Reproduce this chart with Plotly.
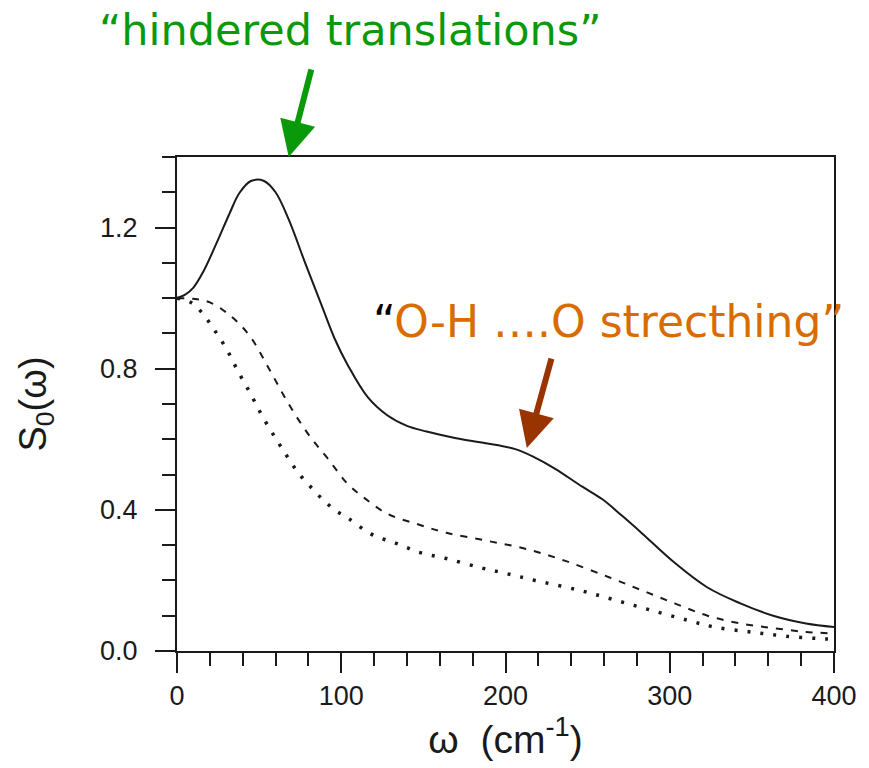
import plotly.graph_objects as go

# Frequency spectrum S0(omega) of the three model curves
omega_solid = [0, 5, 10, 16, 24, 32, 38, 45, 53, 60, 68, 78, 88, 96, 104, 116, 128,
               140, 152, 170, 188, 206, 218, 230, 247, 259, 271, 283, 303, 323, 343, 363, 383, 400]
s_solid = [1.0, 1.01, 1.03, 1.075, 1.155, 1.24, 1.298, 1.332, 1.332, 1.30, 1.223, 1.10,
           0.98, 0.885, 0.81, 0.72, 0.668, 0.638, 0.622, 0.603, 0.589, 0.572, 0.548, 0.517,
           0.465, 0.43, 0.383, 0.334, 0.25, 0.18, 0.135, 0.10, 0.078, 0.068]

omega_dash = [0, 10, 20, 32, 44, 56, 68, 80, 92, 104, 114, 128, 146, 164, 188, 212, 236,
              263, 283, 303, 323, 343, 363, 383, 400]
s_dash = [1.0, 0.998, 0.988, 0.952, 0.895, 0.80, 0.70, 0.614, 0.544, 0.473, 0.434, 0.389,
          0.36, 0.335, 0.313, 0.29, 0.256, 0.209, 0.172, 0.135, 0.10, 0.078, 0.065, 0.054, 0.05]

omega_dot = [0, 8, 15, 22, 30, 37, 45, 52, 60, 67, 74, 82, 89, 96, 104, 118, 134, 148, 164,
             184, 200, 218, 245, 267, 289, 311, 327, 349, 371, 395, 400]
s_dot = [1.0, 0.989, 0.96, 0.915, 0.857, 0.794, 0.727, 0.665, 0.603, 0.552, 0.504, 0.462,
         0.428, 0.40, 0.377, 0.332, 0.304, 0.279, 0.262, 0.237, 0.22, 0.20, 0.172, 0.144,
         0.115, 0.087, 0.068, 0.054, 0.042, 0.034, 0.033]

x_ticks = [0, 100, 200, 300, 400]
y_ticks = [0.0, 0.4, 0.8, 1.2]

INK = "#1a1a1a"
GREEN = "#0a990a"
ORANGE = "#d86c00"
BROWN = "#993300"

fig = go.Figure()
fig.add_trace(go.Scatter(x=omega_solid, y=s_solid, mode="lines",
                         line=dict(color=INK, width=2, shape="spline", smoothing=1.0)))
fig.add_trace(go.Scatter(x=omega_dash, y=s_dash, mode="lines",
                         line=dict(color=INK, width=2, dash="7px,8px", shape="spline", smoothing=1.0)))
fig.add_trace(go.Scatter(x=omega_dot, y=s_dot, mode="lines",
                         line=dict(color=INK, width=3.5, dash="3px,10px", shape="spline", smoothing=1.0)))

axis_common = dict(
    showline=True, linecolor=INK, linewidth=2, mirror=True,
    ticks="outside", ticklen=20, tickwidth=1.5, tickcolor=INK,
    showgrid=False, zeroline=False,
    tickfont=dict(family="Liberation Sans", size=27, color=INK),
)

fig.update_layout(
    width=869, height=768,
    margin=dict(l=177, r=28, t=157, b=117),
    paper_bgcolor="white", plot_bgcolor="white",
    showlegend=False,
    xaxis=dict(range=[0, 400], tickvals=x_ticks, **axis_common,
               minor=dict(dtick=20, ticklen=13, tickwidth=1.5, tickcolor=INK, ticks="outside"),
               title=dict(text="ω  (cm<sup>-1</sup>)", standoff=14,
                          font=dict(family="Liberation Sans", size=39, color=INK))),
    yaxis=dict(range=[0, 1.4], tickvals=y_ticks, tickformat=".1f", **axis_common,
               ticklabelstandoff=12,
               minor=dict(dtick=0.1, ticklen=13, tickwidth=1.5, tickcolor=INK, ticks="outside"),
               title=dict(text="S<sub>0</sub>(ω)", standoff=42,
                          font=dict(family="Liberation Sans", size=38, color=INK))),
)

# Labels for the two spectral features
fig.add_annotation(xref="paper", yref="paper", x=0.2636, y=1.257,
                   text="“hindered translations”", showarrow=False,
                   font=dict(family="DejaVu Sans", size=43, color=GREEN),
                   xanchor="center", yanchor="middle")
fig.add_annotation(x=68, y=1.4, xref="x", yref="y", text="", showarrow=True,
                   ax=23, ay=-89, arrowhead=2, arrowsize=1.2, arrowwidth=6,
                   arrowcolor=GREEN)

fig.add_annotation(xref="paper", yref="paper", x=0.295, y=0.666,
                   text='<span style="color:black">“</span>O-H ….O strecthing”',
                   showarrow=False,
                   font=dict(family="DejaVu Sans", size=44, color=ORANGE),
                   xanchor="left", yanchor="middle")
fig.add_annotation(x=213, y=0.575, xref="x", yref="y", text="", showarrow=True,
                   ax=25, ay=-91, arrowhead=2, arrowsize=1.2, arrowwidth=6,
                   arrowcolor=BROWN)

fig.write_html("out.html")
